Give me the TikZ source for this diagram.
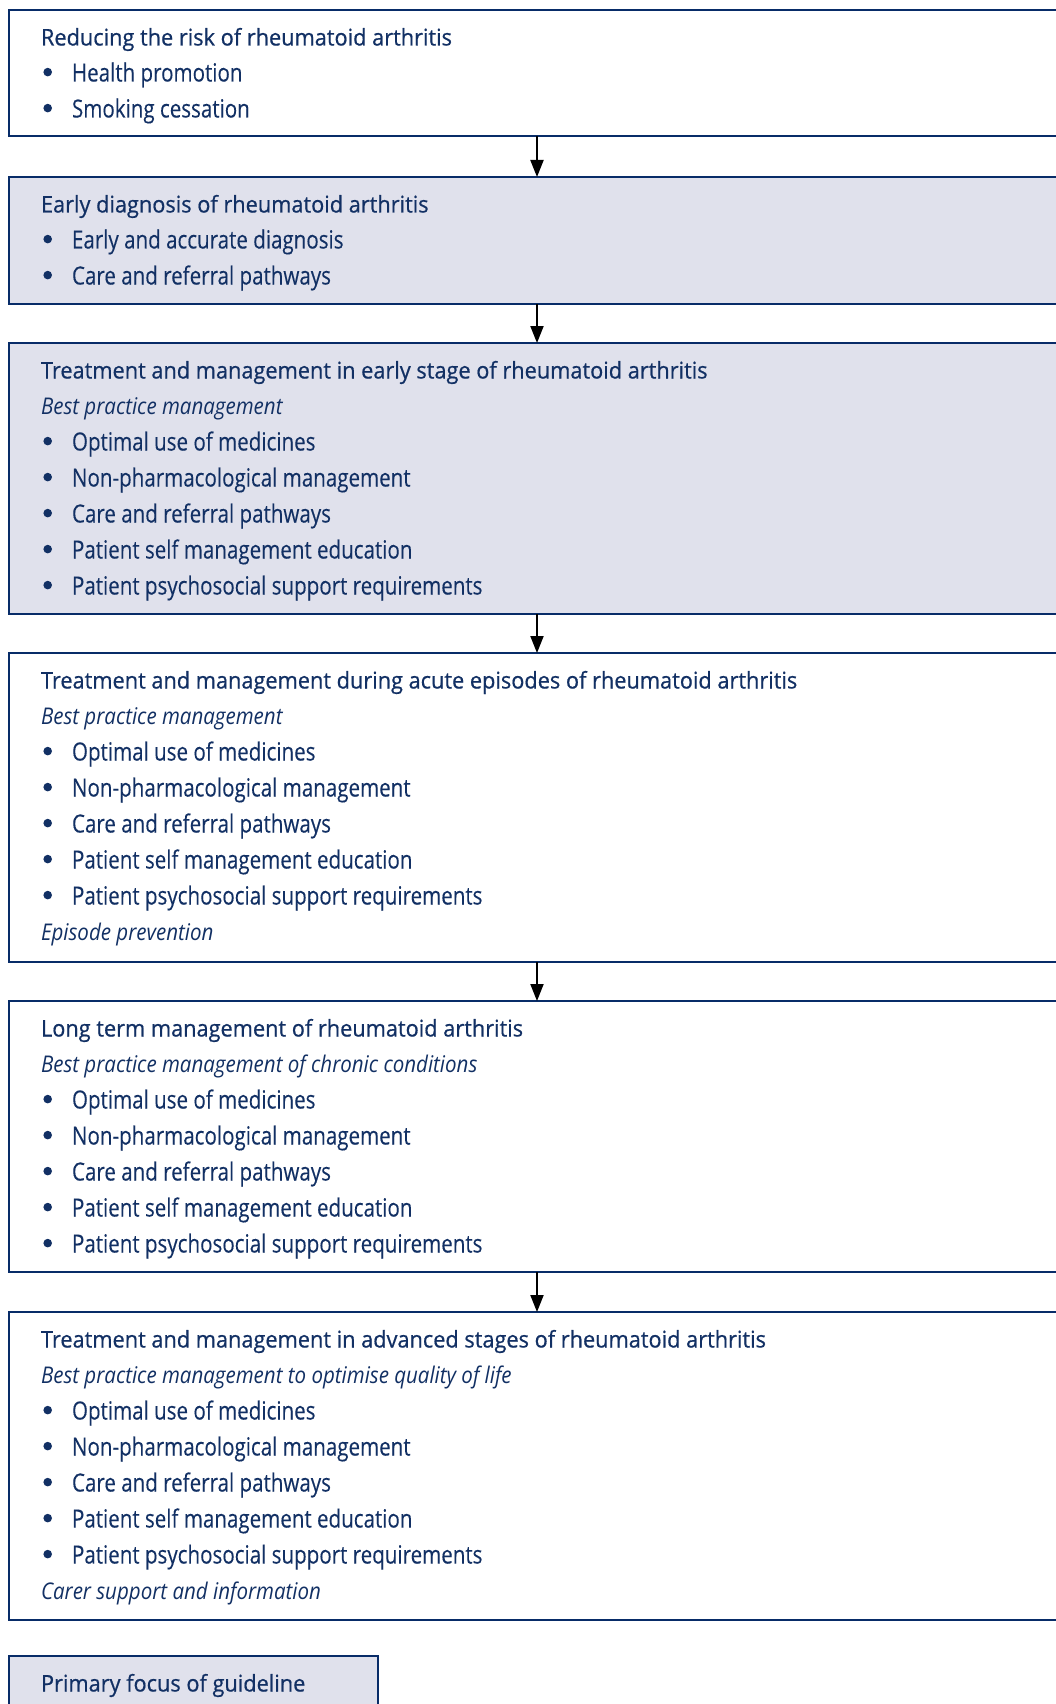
\documentclass[tikz,border=0pt]{standalone}
\usepackage{fontspec}
\setmainfont{Open Sans}[FakeStretch=0.945, FakeBold=0.6]
\newfontfamily\itfam{Open Sans}[FakeStretch=0.892]
\newfontfamily\bulfam{Open Sans}[FakeStretch=0.822, FakeBold=0.15]
\usetikzlibrary{arrows.meta}
\definecolor{navytext}{RGB}{18,48,100}
\definecolor{navyline}{RGB}{8,44,104}
\definecolor{boxfill}{RGB}{224,225,236}
\tikzset{
  box/.style={draw=navyline, line width=2.6pt, rectangle, inner sep=0pt, outer sep=0pt,
              anchor=north west, minimum width=1061pt},
  shaded/.style={box, fill=boxfill},
  plain/.style={box, fill=white},
  txt/.style={anchor=base west, inner sep=0pt, outer sep=0pt, text=navytext,
              font=\fontsize{23}{36}\selectfont},
  ittxt/.style={txt, font=\fontsize{23}{36}\selectfont\itfam\itshape},
  bultxt/.style={txt, font=\fontsize{25}{36}\selectfont\bulfam},
  dot/.style={circle, fill=navytext, inner sep=0pt, minimum size=8.6pt},
  arr/.style={draw=black, line width=2pt, -{Triangle[length=17pt,width=13pt]}},
}
\newcommand\Ttl[3]{\node[txt] (#1) at (41,#2) {#3};}
\newcommand\Itl[3]{\node[ittxt] (#1) at (41,#2) {#3};}
\newcommand\Bul[3]{\node[dot] (#1d) at (47.7,#2-9.4) {};\node[bultxt] (#1) at (72,#2) {#3};}
\begin{document}
\begin{tikzpicture}[x=1pt,y=-1pt]
\clip (0,0) rectangle (1056,1704);
\fill[white] (0,0) rectangle (1056,1704);
% boxes
\node[plain,  minimum height=126pt] (b1) at (9,10) {};
\node[shaded, minimum height=127pt] (b2) at (9,177) {};
\node[shaded, minimum height=271pt] (b3) at (9,343) {};
\node[plain,  minimum height=309pt] (b4) at (9,653) {};
\node[plain,  minimum height=271pt] (b5) at (9,1001) {};
\node[plain,  minimum height=308pt] (b6) at (9,1312) {};
\node[shaded, minimum width=369pt, minimum height=70pt] (leg) at (9,1656) {};
% arrows
\coordinate (ax) at (537,0);
\draw[arr] (b1.south -| ax) -- (b2.north -| ax);
\draw[arr] (b2.south -| ax) -- (b3.north -| ax);
\draw[arr] (b3.south -| ax) -- (b4.north -| ax);
\draw[arr] (b4.south -| ax) -- (b5.north -| ax);
\draw[arr] (b5.south -| ax) -- (b6.north -| ax);
% box 1
\Ttl{t1}{45.5}{Reducing the risk of rheumatoid arthritis}
\Bul{t1a}{81.5}{Health promotion}
\Bul{t1b}{117.5}{Smoking cessation}
% box 2
\Ttl{t2}{212.5}{Early diagnosis of rheumatoid arthritis}
\Bul{t2a}{248.5}{Early and accurate diagnosis}
\Bul{t2b}{284.5}{Care and referral pathways}
% box 3
\Ttl{t3}{378.5}{Treatment and management in early stage of rheumatoid arthritis}
\Itl{t3i}{414.5}{Best practice management}
\Bul{t3a}{450.5}{Optimal use of medicines}
\Bul{t3b}{486.5}{Non-pharmacological management}
\Bul{t3c}{522.5}{Care and referral pathways}
\Bul{t3d}{558.5}{Patient self management education}
\Bul{t3e}{594.5}{Patient psychosocial support requirements}
% box 4
\Ttl{t4}{688.5}{Treatment and management during acute episodes of rheumatoid arthritis}
\Itl{t4i}{724.5}{Best practice management}
\Bul{t4a}{760.5}{Optimal use of medicines}
\Bul{t4b}{796.5}{Non-pharmacological management}
\Bul{t4c}{832.5}{Care and referral pathways}
\Bul{t4d}{868.5}{Patient self management education}
\Bul{t4e}{904.5}{Patient psychosocial support requirements}
\Itl{t4j}{940.5}{Episode prevention}
% box 5
\Ttl{t5}{1036.5}{Long term management of rheumatoid arthritis}
\Itl{t5i}{1072.5}{Best practice management of chronic conditions}
\Bul{t5a}{1108.5}{Optimal use of medicines}
\Bul{t5b}{1144.5}{Non-pharmacological management}
\Bul{t5c}{1180.5}{Care and referral pathways}
\Bul{t5d}{1216.5}{Patient self management education}
\Bul{t5e}{1252.5}{Patient psychosocial support requirements}
% box 6
\Ttl{t6}{1347.5}{Treatment and management in advanced stages of rheumatoid arthritis}
\Itl{t6i}{1383.5}{Best practice management to optimise quality of life}
\Bul{t6a}{1419.5}{Optimal use of medicines}
\Bul{t6b}{1455.5}{Non-pharmacological management}
\Bul{t6c}{1491.5}{Care and referral pathways}
\Bul{t6d}{1527.5}{Patient self management education}
\Bul{t6e}{1563.5}{Patient psychosocial support requirements}
\Itl{t6j}{1599.5}{Carer support and information}
% legend
\Ttl{lg}{1691.5}{Primary focus of guideline}
\end{tikzpicture}
\end{document}
